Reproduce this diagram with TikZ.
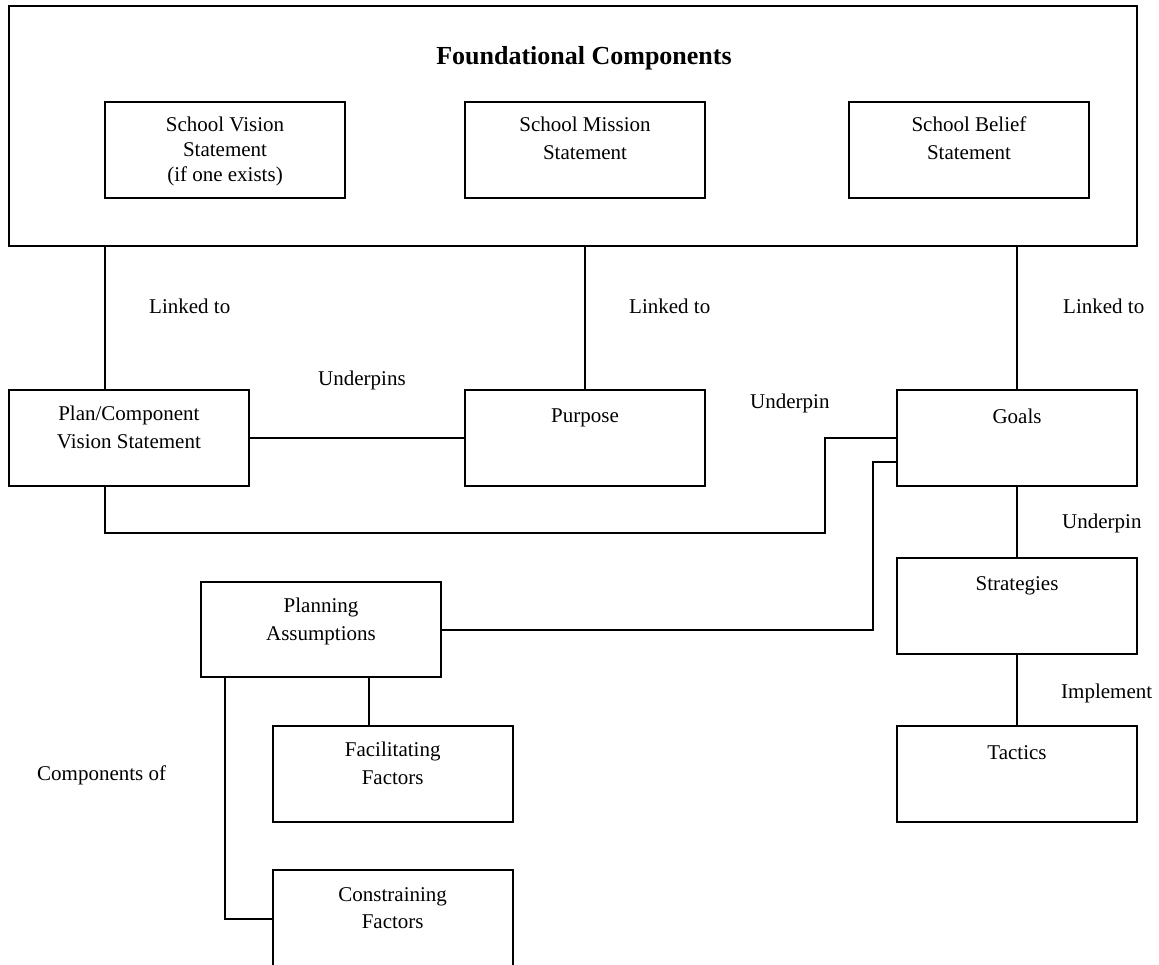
\documentclass[tikz,border=0pt]{standalone}
\usepackage{fontspec}
\setmainfont{Liberation Serif}
\begin{document}
\begin{tikzpicture}[x=1pt,y=-1pt,
  bx/.style={draw, line width=2pt, inner sep=0pt, minimum width=240pt, minimum height=96pt},
  txt/.style={inner sep=0pt, anchor=base, align=center, font=\fontsize{21}{27.5}\selectfont},
  lbl/.style={inner sep=0pt, anchor=base west, font=\fontsize{21}{27.5}\selectfont},
  ln/.style={line width=2pt}]
\useasboundingbox (0,0) rectangle (1159,964);
% boxes
\node[bx, minimum width=1128.3pt, minimum height=240pt] (outer) at (572.85,125.7) {};
\node[bx] (vision) at (225,150) {};
\node[bx] (mission) at (585,150) {};
\node[bx] (belief) at (969,150) {};
\node[bx, minimum width=240.3pt] (plan) at (128.85,438) {};
\node[bx] (purpose) at (585,438) {};
\node[bx] (goals) at (1017,438) {};
\node[bx, minimum height=95.5pt] (strat) at (1017,605.75) {};
\node[bx, minimum height=95.7pt] (tactics) at (1017,773.85) {};
\node[bx, minimum height=95.6pt] (planning) at (321,629.5) {};
\node[bx, minimum height=95.7pt] (facil) at (392.7,773.85) {};
\node[bx, minimum height=98pt] (constr) at (392.7,919) {};
% box texts (base = baseline of last line)
\node[inner sep=0pt, anchor=base, font=\fontsize{26}{30}\selectfont\bfseries] (title) at (584,64) {Foundational Components};
\node[txt, font=\fontsize{21}{25}\selectfont] (tvision) at (225,181.7) {School Vision\\Statement\\(if one exists)};
\node[txt] (tmission) at (585,159.2) {School Mission\\Statement};
\node[txt] (tbelief) at (969,159.2) {School Belief\\Statement};
\node[txt] (tplan) at (128.85,448) {Plan/Component\\Vision Statement};
\node[txt] (tpurpose) at (585,422) {Purpose};
\node[txt] (tgoals) at (1017,423) {Goals};
\node[txt] (tstrat) at (1017,590) {Strategies};
\node[txt] (ttactics) at (1017,759) {Tactics};
\node[txt] (tplanning) at (321,640.2) {Planning\\Assumptions};
\node[txt] (tfacil) at (392.7,784.2) {Facilitating\\Factors};
\node[txt] (tconstr) at (392.7,928.5) {Constraining\\Factors};
% connector labels
\node[lbl] (lk1) at (149,313) {Linked to};
\node[lbl] (lk2) at (629,313) {Linked to};
\node[lbl] (lk3) at (1063,313) {Linked to};
\node[lbl] (up1) at (318,385) {Underpins};
\node[lbl] (up2) at (750,408) {Underpin};
\node[lbl] (up3) at (1062,528) {Underpin};
\node[lbl] (impl) at (1061,698) {Implement};
\node[lbl] (comp) at (37,780) {Components of};
% connectors
\draw[ln] (105,0 |- outer.south) -- (105,0 |- plan.north);
\draw[ln] (purpose.north |- outer.south) -- (purpose.north);
\draw[ln] (goals.north |- outer.south) -- (goals.north);
\draw[ln] (plan.east) -- (purpose.west);
\draw[ln] (105,0 |- plan.south) -- (105,533.3) -- (825,533.3) -- (825,0 |- goals.west) -- (goals.west);
\draw[ln] (goals.west |- 0,461.7) -- (873.3,461.7) -- (873.3,0 |- planning.east) -- (planning.east);
\draw[ln] (goals.south) -- (strat.north);
\draw[ln] (strat.south) -- (tactics.north);
\draw[ln] (369,0 |- planning.south) -- (369,0 |- facil.north);
\draw[ln] (225,0 |- planning.south) -- (225,0 |- constr.west) -- (constr.west);
\end{tikzpicture}
\end{document}
